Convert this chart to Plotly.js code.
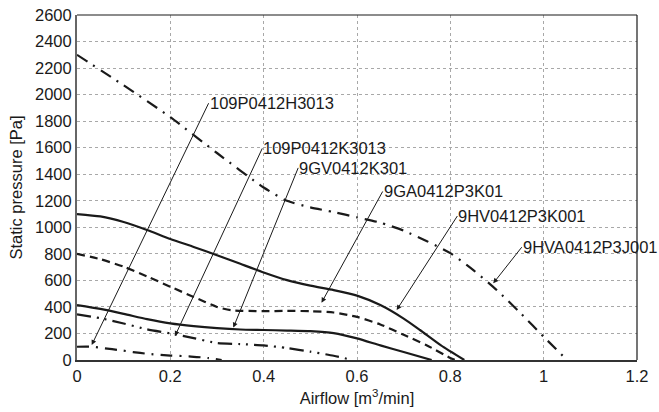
<!DOCTYPE html>
<html>
<head>
<meta charset="utf-8">
<script src="https://cdn.plot.ly/plotly-3.0.1.min.js"></script>
<style>html,body{margin:0;padding:0;background:#fff;}#chart{width:659px;height:412px;}</style>
</head>
<body>
<div id="chart"></div>
<script>
// Series data (airflow m3/min, static pressure Pa)
var hvaX = [0, 0.1, 0.2, 0.3, 0.4, 0.45, 0.5, 0.55, 0.6, 0.65, 0.7, 0.75, 0.8, 0.85, 0.9, 0.95, 1.0, 1.05];
var hvaY = [2300, 2070, 1830, 1560, 1300, 1200, 1150, 1115, 1075, 1035, 975, 895, 805, 675, 525, 355, 175, 0];

var hvX = [0, 0.05, 0.1, 0.15, 0.2, 0.25, 0.3, 0.35, 0.4, 0.45, 0.5, 0.55, 0.6, 0.65, 0.7, 0.735, 0.78, 0.83];
var hvY = [1100, 1082, 1040, 980, 912, 852, 790, 725, 660, 602, 560, 527, 485, 414, 312, 226, 110, 0];

var gaX = [0, 0.05, 0.1, 0.15, 0.2, 0.25, 0.3, 0.33, 0.4, 0.45, 0.5, 0.55, 0.6, 0.65, 0.7, 0.75, 0.8, 0.81];
var gaY = [800, 760, 703, 630, 552, 475, 400, 375, 368, 370, 368, 358, 325, 268, 190, 110, 15, 0];

var gvX = [0, 0.05, 0.1, 0.15, 0.2, 0.25, 0.3, 0.35, 0.4, 0.45, 0.5, 0.55, 0.6, 0.65, 0.7, 0.76];
var gvY = [414, 385, 348, 308, 276, 255, 240, 230, 226, 222, 217, 203, 163, 110, 60, 0];

var k3013X = [0, 0.05, 0.1, 0.15, 0.2, 0.25, 0.3, 0.35, 0.4, 0.45, 0.5, 0.55, 0.59];
var k3013Y = [344, 315, 275, 231, 200, 165, 128, 120, 110, 90, 63, 32, 0];

var h3013X = [0, 0.03, 0.06, 0.09, 0.12, 0.15, 0.2, 0.24, 0.28, 0.31];
var h3013Y = [100, 100, 88, 75, 60, 47, 33, 28, 15, 0];

var xTicks = [0, 0.2, 0.4, 0.6, 0.8, 1.0, 1.2];
var xTickText = ['0', '0.2', '0.4', '0.6', '0.8', '1', '1.2'];

var modelNames = ['109P0412H3013', '109P0412K3013', '9GV0412K301', '9GA0412P3K01', '9HV0412P3K001', '9HVA0412P3J001'];

var FONT = 'Arial, "Liberation Sans", Helvetica, sans-serif';
var FS = 16.5;

function tr(x, y, dash, name) {
  return {x: x, y: y, type: 'scatter', mode: 'lines', name: name,
    line: {color: '#1a1a1a', width: 2.2, dash: dash, shape: 'spline', smoothing: 0.6},
    hoverinfo: 'skip'};
}

var data = [
  tr(hvaX, hvaY, '12px,7px,2px,7px', modelNames[5]),
  tr(hvX, hvY, 'solid', modelNames[4]),
  tr(gaX, gaY, '8px,5px', modelNames[3]),
  tr(gvX, gvY, 'solid', modelNames[2]),
  tr(k3013X, k3013Y, '14px,6px,2px,6px,2px,6px', modelNames[1]),
  tr(h3013X, h3013Y, '12px,7px,2px,7px', modelNames[0])
];

// label placement: [tail/text-left x, tail y, arrow head x, head y]
var labelPos = [
  [0.282, 1935, 0.0315, 113],
  [0.397, 1595, 0.21, 181],
  [0.474, 1448, 0.335, 244],
  [0.655, 1270, 0.524, 432],
  [0.815, 1085, 0.685, 377],
  [0.953, 850, 0.892, 578]
];

var annotations = [];
labelPos.forEach(function (p, i) {
  annotations.push({x: p[2], y: p[3], xref: 'x', yref: 'y', ax: p[0], ay: p[1],
    axref: 'x', ayref: 'y', text: modelNames[i], xanchor: 'left', yanchor: 'middle',
    showarrow: true, arrowhead: 2, arrowsize: 1, arrowwidth: 1, arrowcolor: '#1a1a1a',
    standoff: 0, startstandoff: 0, borderpad: 0,
    font: {family: FONT, size: FS, color: '#1a1a1a'}});
});

var layout = {
  width: 659, height: 412,
  margin: {l: 77, r: 22, t: 15, b: 52},
  paper_bgcolor: '#fff', plot_bgcolor: '#fff',
  showlegend: false,
  font: {family: FONT, size: FS, color: '#1a1a1a'},
  xaxis: {
    range: [0, 1.2], tickvals: xTicks, ticktext: xTickText,
    showgrid: true, gridcolor: '#a8a8a8', gridwidth: 1, griddash: 'dot',
    zeroline: false, showline: true, linecolor: '#333', linewidth: 2,
    ticks: '', ticklen: 0,
    title: {text: 'Airflow [m<sup>3</sup>/min]', font: {family: FONT, size: FS}, standoff: 9},
    tickfont: {family: FONT, size: FS}
  },
  yaxis: {
    range: [0, 2600], dtick: 200, tick0: 0,
    showgrid: true, gridcolor: '#a8a8a8', gridwidth: 1, griddash: 'dot',
    zeroline: false, showline: true, linecolor: '#666', linewidth: 2,
    ticks: '', ticklen: 0,
    title: {text: 'Static pressure [Pa]', font: {family: FONT, size: FS}, standoff: 8},
    tickfont: {family: FONT, size: FS}
  },
  shapes: [
    {type: 'line', xref: 'paper', yref: 'paper', x0: 0, x1: 1, y0: 1, y1: 1, line: {color: '#1a1a1a', width: 1.2}},
    {type: 'line', xref: 'paper', yref: 'paper', x0: 1, x1: 1, y0: 0, y1: 1, line: {color: '#1a1a1a', width: 1.2}}
  ],
  annotations: annotations
};

Plotly.newPlot('chart', data, layout, {displayModeBar: false, staticPlot: true});
</script>
</body>
</html>
